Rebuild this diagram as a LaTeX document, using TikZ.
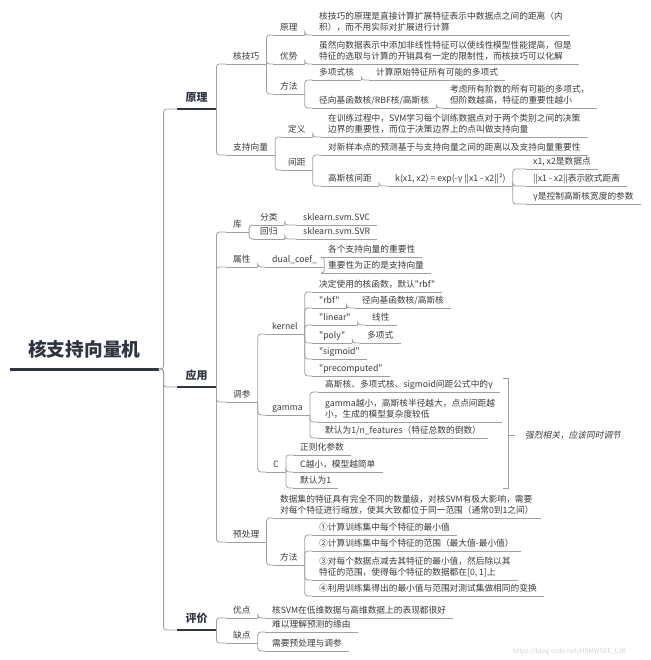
\documentclass[tikz,border=0pt]{standalone}
\usepackage{fontspec}
\setmainfont{Noto Sans CJK SC}[Ligatures=TeXOff]
\newfontfamily\slantfont{Noto Sans CJK SC}[FakeSlant=0.2]
\definecolor{inkgray}{HTML}{3A3A3A}
\definecolor{linegray}{HTML}{A0A0A0}
\definecolor{navy}{HTML}{2E3440}
\tikzset{
  topic/.style={anchor=south west, inner xsep=7pt, inner ysep=0.5pt, align=left, text=inkgray,
    font=\fontsize{8.7}{11.5}\selectfont, execute at end node=\strut,
    append after command={(\tikzlastnode.south west) edge[draw=linegray, line width=0.8pt] (\tikzlastnode.south east)}},
  main/.style={anchor=south west, inner xsep=8.5pt, inner ysep=3.7pt, text=navy,
    font=\fontsize{11}{13.5}\selectfont\bfseries, execute at end node=\strut,
    append after command={(\tikzlastnode.south west) edge[draw=navy, line width=2pt] (\tikzlastnode.south east)}},
  rootnode/.style={anchor=south west, inner xsep=18pt, inner ysep=5.2pt, text=navy,
    font=\fontsize{18.7}{22.4}\selectfont\bfseries, execute at end node=\strut,
    append after command={(\tikzlastnode.south west) edge[draw=navy, line width=3pt] (\tikzlastnode.south east)}},
  conn/.style={draw=linegray, line width=0.8pt, rounded corners=3pt, to path={|- (\tikztotarget)}},
  trunk/.style={draw=linegray, line width=0.8pt, rounded corners=3pt, to path={-- ++(5,0) |- (\tikztotarget)}},
  bracket/.style={draw=linegray, line width=0.8pt}
}
\begin{document}
\begin{tikzpicture}[x=1pt,y=-1pt]
  \useasboundingbox (0,0) rectangle (650,660);
  % root and main branches
  \node[rootnode] (root) at (10,369) {核支持向量机};
  \node[main] (yl) at (177,109) {原理};
  \node[main] (yy) at (177,387) {应用};
  \node[main] (pj) at (177,630) {评价};
  \draw (root.south east) edge[trunk] (yl.south west);
  \draw (root.south east) edge[trunk] (yy.south west);
  \draw (root.south east) edge[trunk] (pj.south west);

  % 原理
  \node[topic] (hjq) at (226,64) {核技巧};
  \node[topic] (zcxl) at (226,155) {支持向量};
  \draw (yl.south east) edge[conn] (hjq.south west);
  \draw (yl.south east) edge[conn] (zcxl.south west);

  \node[topic] (hjqyl) at (273,35) {原理};
  \node[topic] (ys) at (273,64) {优势};
  \node[topic] (ff) at (273,94) {方法};
  \draw (hjq.south east) edge[conn] (hjqyl.south west);
  \draw (hjq.south east) edge[conn] (ys.south west);
  \draw (hjq.south east) edge[conn] (ff.south west);
  \node[topic] (hjqylt) at (312,35) {核技巧的原理是直接计算扩展特征表示中数据点之间的距离（内\\积），而不用实际对扩展进行计算};
  \node[topic] (yst) at (312,64) {虽然向数据表示中添加非线性特征可以使线性模型性能提高，但是\\特征的选取与计算的开销具有一定的限制性，而核技巧可以化解};
  \draw (hjqyl.south east) edge[conn] (hjqylt.south west);
  \draw (ys.south east) edge[conn] (yst.south west);

  \node[topic] (dxsh) at (312,80) {多项式核};
  \node[topic] (rbfh) at (312,108) {径向基函数核/RBF核/高斯核};
  \draw (ff.south east) edge[conn] (dxsh.south west);
  \draw (ff.south east) edge[conn] (rbfh.south west);
  \node[topic] (dxsht) at (369,80) {计算原始特征所有可能的多项式};
  \node[topic] (rbfht) at (443,108) {考虑所有阶数的所有可能的多项式，\\但阶数越高，特征的重要性越小};
  \draw (dxsh.south east) edge[conn] (dxsht.south west);
  \draw (rbfh.south east) edge[conn] (rbfht.south west);

  \node[topic] (dy) at (281,137) {定义};
  \node[topic] (jj) at (281,170) {间距};
  \draw (zcxl.south east) edge[conn] (dy.south west);
  \draw (zcxl.south east) edge[conn] (jj.south west);
  \node[topic] (dyt) at (321,137) {在训练过程中，SVM学习每个训练数据点对于两个类别之间的决策\\边界的重要性，而位于决策边界上的点叫做支持向量};
  \draw (dy.south east) edge[conn] (dyt.south west);
  \node[topic] (jjt) at (321,155) {对新样本点的预测基于与支持向量之间的距离以及支持向量重要性};
  \node[topic] (gsjj) at (321,186) {高斯核间距};
  \draw (jj.south east) edge[conn] (jjt.south west);
  \draw (jj.south east) edge[conn] (gsjj.south west);
  \node[topic] (gsgs) at (388,186) {k(x1, x2) = exp(-γ ||x1 - x2||²)};
  \draw (gsjj.south east) edge[conn] (gsgs.south west);
  \node[topic] (gsa) at (526,169) {x1, x2是数据点};
  \node[topic] (gsb) at (526,186) {||x1 - x2||表示欧式距离};
  \node[topic] (gsc) at (526,204) {γ是控制高斯核宽度的参数};
  \draw (gsgs.south east) edge[conn] (gsa.south west);
  \draw (gsgs.south east) edge[conn] (gsb.south west);
  \draw (gsgs.south east) edge[conn] (gsc.south west);

  % 应用
  \node[topic] (ku) at (226,232) {库};
  \node[topic] (sx) at (226,267) {属性};
  \node[topic] (tc) at (226,402) {调参};
  \node[topic] (ycl) at (226,542) {预处理};
  \draw (yy.south east) edge[conn] (ku.south west);
  \draw (yy.south east) edge[conn] (sx.south west);
  \draw (yy.south east) edge[conn] (tc.south west);
  \draw (yy.south east) edge[conn] (ycl.south west);

  \node[topic] (fl) at (253,225) {分类};
  \node[topic] (hg) at (253,239) {回归};
  \draw (ku.south east) edge[conn] (fl.south west);
  \draw (ku.south east) edge[conn] (hg.south west);
  \node[topic] (flt) at (296,225) {sklearn.svm.SVC};
  \node[topic] (hgt) at (296,239) {sklearn.svm.SVR};
  \draw (fl.south east) edge[conn] (flt.south west);
  \draw (hg.south east) edge[conn] (hgt.south west);

  \node[topic] (dcoef) at (265,267) {dual\_coef\_};
  \draw (sx.south east) edge[conn] (dcoef.south west);
  \node[topic] (dca) at (321,257) {各个支持向量的重要性};
  \node[topic] (dcb) at (321,273) {重要性为正的是支持向量};
  \draw (dcoef.south east) edge[conn] (dca.south west);
  \draw (dcoef.south east) edge[conn] (dcb.south west);

  \node[topic] (kn) at (265,334) {kernel};
  \node[topic] (gm) at (265,415) {gamma};
  \node[topic] (cc) at (266,472) {C};
  \draw (tc.south east) edge[conn] (kn.south west);
  \draw (tc.south east) edge[conn] (gm.south west);
  \draw (tc.south east) edge[conn] (cc.south west);

  \node[topic] (kna) at (312,292) {决定使用的核函数，默认"rbf"};
  \node[topic] (krbf) at (312,308) {"rbf"};
  \node[topic] (klin) at (312,325) {"linear"};
  \node[topic] (kpoly) at (312,343) {"poly"};
  \node[topic] (ksig) at (312,359) {"sigmoid"};
  \node[topic] (kpre) at (312,376) {"precomputed"};
  \draw (kn.south east) edge[conn] (kna.south west);
  \draw (kn.south east) edge[conn] (krbf.south west);
  \draw (kn.south east) edge[conn] (klin.south west);
  \draw (kn.south east) edge[conn] (kpoly.south west);
  \draw (kn.south east) edge[conn] (ksig.south west);
  \draw (kn.south east) edge[conn] (kpre.south west);
  \node[topic] (krbft) at (355,308) {径向基函数核/高斯核};
  \node[topic] (klint) at (365,325) {线性};
  \node[topic] (kpolyt) at (360,343) {多项式};
  \draw (krbf.south east) edge[conn] (krbft.south west);
  \draw (klin.south east) edge[conn] (klint.south west);
  \draw (kpoly.south east) edge[conn] (kpolyt.south west);

  \node[topic] (gma) at (318,392) {高斯核、多项式核、sigmoid间距公式中的γ};
  \node[topic] (gmb) at (318,422) {gamma越小，高斯核半径越大，点点间距越\\小，生成的模型复杂度较低};
  \node[topic] (gmc) at (318,438) {默认为1/n\_features（特征总数的倒数）};
  \draw (gm.south east) edge[conn] (gma.south west);
  \draw (gm.south east) edge[conn] (gmb.south west);
  \draw (gm.south east) edge[conn] (gmc.south west);

  \node[topic] (cca) at (293,455) {正则化参数};
  \node[topic] (ccb) at (293,472) {C越小，模型越简单};
  \node[topic] (ccc) at (293,488) {默认为1};
  \draw (cc.south east) edge[conn] (cca.south west);
  \draw (cc.south east) edge[conn] (ccb.south west);
  \draw (cc.south east) edge[conn] (ccc.south west);

  % bracket: gamma and C
  \coordinate (brt) at (503,378);
  \coordinate (brb) at (503,488);
  \coordinate (brm) at (508,435);
  \node[anchor=west, inner xsep=10pt, text=inkgray, font=\fontsize{8.7}{11.5}\selectfont\slantfont] (xg) at (515,435) {强烈相关，应该同时调节};
  \draw[bracket] (brt) -- ++(5,0) |- (brb);
  \draw[bracket] (brm) -- (xg.west);

  \node[topic] (yclt) at (273,518) {数据集的特征具有完全不同的数量级，对核SVM有极大影响，需要\\对每个特征进行缩放，使其大致都位于同一范围（通常0到1之间）};
  \node[topic] (ff2) at (273,565) {方法};
  \draw (ycl.south east) edge[conn] (yclt.south west);
  \draw (ycl.south east) edge[conn] (ff2.south west);
  \node[topic] (s1) at (312,535) {①计算训练集中每个特征的最小值};
  \node[topic] (s2) at (312,551) {②计算训练集中每个特征的范围（最大值-最小值）};
  \node[topic] (s3) at (312,580) {③对每个数据点减去其特征的最小值，然后除以其\\特征的范围，使得每个特征的数据都在[0, 1]上};
  \node[topic] (s4) at (312,596) {④利用训练集得出的最小值与范围对测试集做相同的变换};
  \draw (ff2.south east) edge[conn] (s1.south west);
  \draw (ff2.south east) edge[conn] (s2.south west);
  \draw (ff2.south east) edge[conn] (s3.south west);
  \draw (ff2.south east) edge[conn] (s4.south west);

  % 评价
  \node[topic] (yd) at (226,618) {优点};
  \node[topic] (qd) at (226,643) {缺点};
  \draw (pj.south east) edge[conn] (yd.south west);
  \draw (pj.south east) edge[conn] (qd.south west);
  \node[topic] (ydt) at (265,618) {核SVM在低维数据与高维数据上的表现都很好};
  \draw (yd.south east) edge[conn] (ydt.south west);
  \node[topic] (qda) at (265,632) {难以理解预测的缘由};
  \node[topic] (qdb) at (265,651) {需要预处理与调参};
  \draw (qd.south east) edge[conn] (qda.south west);
  \draw (qd.south east) edge[conn] (qdb.south west);

  \node[anchor=west, inner sep=0pt, text=black!18, font=\fontsize{6.5}{8}\selectfont] (wm) at (513,652) {https://blog.csdn.net/HRMWSEE\_LJK};
\end{tikzpicture}
\end{document}
